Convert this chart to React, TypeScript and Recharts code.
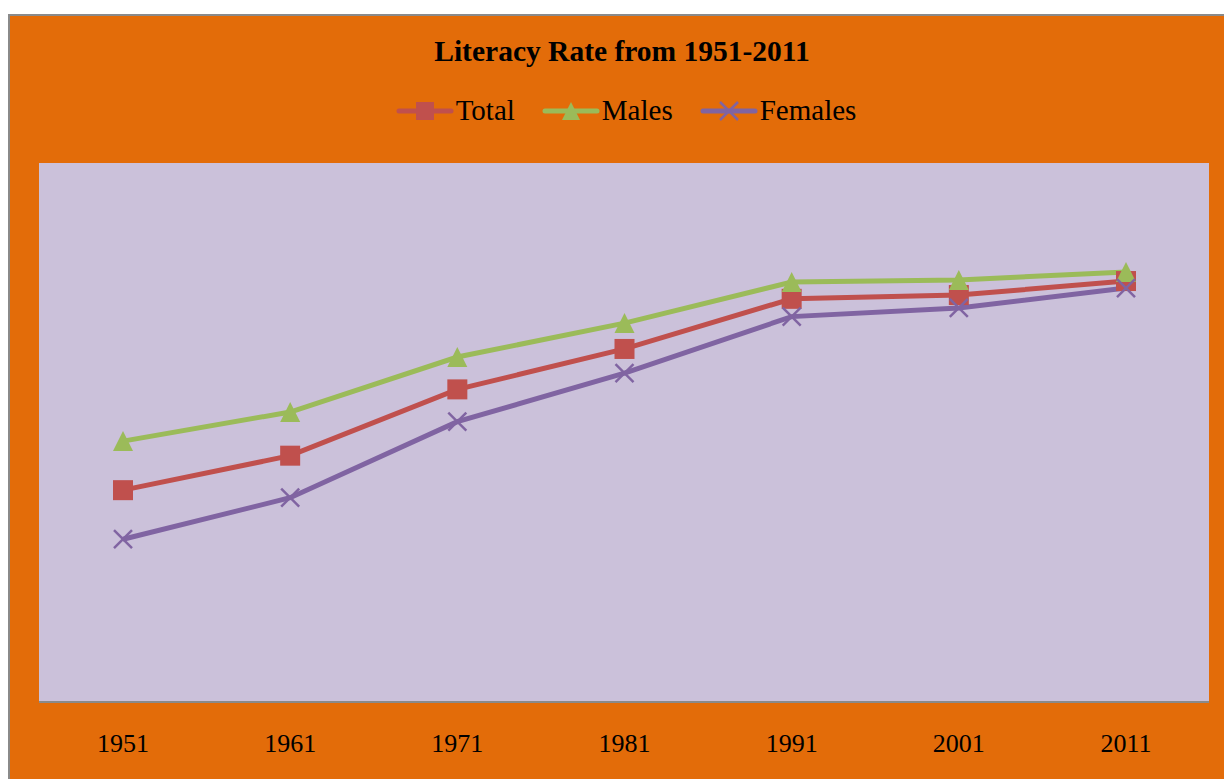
import React from "react";
import { CartesianGrid, Line, LineChart, XAxis, YAxis } from "recharts";

const years = ["1951", "1961", "1971", "1981", "1991", "2001", "2011"];
const total = [39.3, 45.7, 58.0, 65.5, 74.8, 75.5, 78.1];
const males = [48.4, 53.8, 64.0, 70.3, 77.9, 78.3, 79.8];
const females = [30.2, 37.9, 52.0, 61.0, 71.5, 73.1, 76.8];

const RED = "#C0504D";
const GREEN = "#9BBB59";
const PURPLE = "#8064A2";
const ORANGE = "#E36C09";
const PLOT_BG = "#CBC1DA";
const FONT = "'Liberation Serif', 'Times New Roman', serif";

const data = years.map((y, i) => ({
  year: y,
  total: total[i],
  males: males[i],
  females: females[i],
}));

function square(cx: number, cy: number, s: number, key?: string) {
  return <rect key={key} x={cx - s / 2} y={cy - s / 2} width={s} height={s} fill={RED} />;
}
function triangle(cx: number, cy: number, s: number, key?: string) {
  const h = s / 2;
  return <polygon key={key} points={`${cx},${cy - h} ${cx + h},${cy + h} ${cx - h},${cy + h}`} fill={GREEN} />;
}
function cross(cx: number, cy: number, s: number, key?: string) {
  const h = s / 2;
  return (
    <g key={key} stroke={PURPLE} strokeWidth={2.5}>
      <line x1={cx - h} y1={cy - h} x2={cx + h} y2={cy + h} />
      <line x1={cx - h} y1={cy + h} x2={cx + h} y2={cy - h} />
    </g>
  );
}

const legendItems = [
  { name: "Total", color: RED, marker: square },
  { name: "Males", color: GREEN, marker: triangle },
  { name: "Females", color: PURPLE, marker: cross },
];

export default function App() {
  return (
    <div
      style={{
        position: "fixed",
        left: 8,
        top: 14,
        width: 1216,
        height: 765,
        boxSizing: "border-box",
        borderLeft: "2px solid #8a8a8a",
        borderTop: "2px solid #8a8a8a",
        background: ORANGE,
        fontFamily: FONT,
      }}
    >
      <div
        style={{
          position: "absolute",
          top: 21,
          left: 5,
          width: 1214,
          textAlign: "center",
          fontSize: 29.5,
          lineHeight: "29.5px",
          fontWeight: "bold",
          color: "#000",
        }}
      >
        Literacy Rate from 1951-2011
      </div>
      <div
        style={{
          position: "absolute",
          top: 80,
          left: 9,
          width: 1214,
          display: "flex",
          justifyContent: "center",
          gap: 27,
          fontSize: 29,
          lineHeight: "29px",
          color: "#000",
        }}
      >
        {legendItems.map((it) => (
          <div key={it.name} style={{ display: "flex", alignItems: "center" }}>
            <svg width={58} height={24} style={{ marginRight: 2 }}>
              <line x1={3} y1={12} x2={55} y2={12} stroke={it.color} strokeWidth={5} strokeLinecap="round" />
              {it.marker(29, 12, 18)}
            </svg>
            <span>{it.name}</span>
          </div>
        ))}
      </div>
      <LineChart width={1214} height={763} data={data} margin={{ top: 147, right: 15, bottom: 17, left: 29 }}>
        <CartesianGrid horizontal={false} vertical={false} fill={PLOT_BG} stroke="none" />
        <XAxis
          dataKey="year"
          padding={{ left: 84, right: 83 }}
          height={60}
          tickLine={false}
          tickSize={0}
          tickMargin={32}
          axisLine={{ stroke: "#8a8a8a", strokeWidth: 2 }}
          tick={{ fontSize: 26, fill: "#000", fontFamily: FONT }}
        />
        <YAxis hide domain={[0, 100]} />
        <Line
          dataKey="total"
          stroke={RED}
          strokeWidth={5}
          isAnimationActive={false}
          dot={(p: any) => square(p.cx, p.cy, 20, `t-${p.index}`)}
          activeDot={false}
        />
        <Line
          dataKey="males"
          stroke={GREEN}
          strokeWidth={5}
          isAnimationActive={false}
          dot={(p: any) => triangle(p.cx, p.cy, 20, `m-${p.index}`)}
          activeDot={false}
        />
        <Line
          dataKey="females"
          stroke={PURPLE}
          strokeWidth={5}
          isAnimationActive={false}
          dot={(p: any) => cross(p.cx, p.cy, 18, `f-${p.index}`)}
          activeDot={false}
        />
      </LineChart>
    </div>
  );
}
